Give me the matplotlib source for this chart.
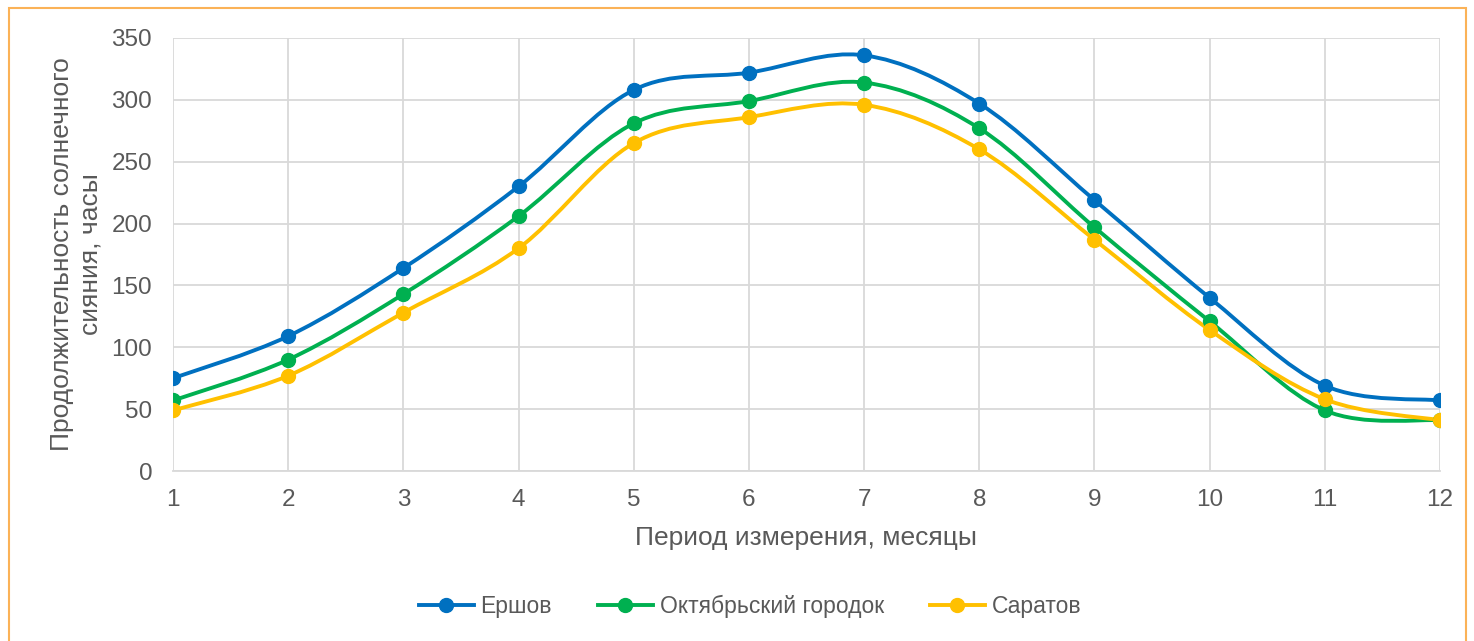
import matplotlib
matplotlib.use("Agg")
import matplotlib.pyplot as plt
from matplotlib.path import Path
from matplotlib.patches import PathPatch, Rectangle
from matplotlib.lines import Line2D

plt.rcParams['font.family'] = ['Liberation Sans', 'DejaVu Sans']

months = [1, 2, 3, 4, 5, 6, 7, 8, 9, 10, 11, 12]
ershov = [75, 109, 164, 230, 308, 322, 336, 297, 219, 140, 69, 57]
oktyabrsky = [57, 90, 143, 206, 281, 299, 314, 277, 197, 121, 49, 41]
saratov = [49, 77, 128, 180, 265, 286, 296, 260, 187, 114, 58, 41]

names = ['Ершов', 'Октябрьский городок', 'Саратов']
colors = ['#0070C0', '#00B050', '#FFC000']
grey = '#595959'


def smooth_path(xs, ys):
    # Excel-like smoothed line: cubic bezier through each point
    n = len(xs)
    verts = [(xs[0], ys[0])]
    codes = [Path.MOVETO]
    for i in range(n - 1):
        a = max(i - 1, 0)
        b = min(i + 2, n - 1)
        c1 = (xs[i] + (xs[i + 1] - xs[a]) / 6, ys[i] + (ys[i + 1] - ys[a]) / 6)
        c2 = (xs[i + 1] - (xs[b] - xs[i]) / 6, ys[i + 1] - (ys[b] - ys[i]) / 6)
        verts += [c1, c2, (xs[i + 1], ys[i + 1])]
        codes += [Path.CURVE4] * 3
    return Path(verts, codes)


fig = plt.figure(figsize=(14.74, 6.41), dpi=100)
ax = fig.add_axes([173 / 1474, 1 - 471 / 641, (1440 - 173) / 1474, (471 - 38) / 641])

handles = []
for ys, name, col in zip([ershov, oktyabrsky, saratov], names, colors):
    ax.add_patch(PathPatch(smooth_path(months, ys), facecolor='none', edgecolor=col,
                           lw=2.8, capstyle='round', joinstyle='round', zorder=3))
    ax.plot(months, ys, 'o', color=col, markersize=10, zorder=4)
    handles.append(Line2D([], [], color=col, lw=2.8, marker='o', markersize=10, label=name))

ax.set_xlim(1, 12)
ax.set_ylim(0, 350)
ax.set_xticks(months)
ax.set_yticks(range(0, 351, 50))
ax.grid(True, color='#D9D9D9', lw=1.3)
ax.set_axisbelow(True)
for s in ['top', 'right', 'left']:
    ax.spines[s].set_visible(False)
ax.spines['bottom'].set_color('#D9D9D9')
ax.spines['bottom'].set_linewidth(1.3)
ax.tick_params(length=0, labelsize=17.5, colors=grey)
ax.tick_params(axis='x', pad=13)
ax.tick_params(axis='y', pad=15)

fig.text(806 / 1474, 1 - 538 / 641, 'Период измерения, месяцы', fontsize=19,
         color=grey, ha='center', va='center')
fig.text(76 / 1474, 1 - 254 / 641, 'Продолжительность солнечного\nсияния, часы',
         fontsize=19, color=grey, ha='center', va='center', rotation=90,
         linespacing=1.25, multialignment='center')

fig.legend(handles=handles, loc='center', bbox_to_anchor=(750 / 1474, 1 - 606 / 641),
           ncol=3, frameon=False, fontsize=16.5, labelcolor=grey,
           handlelength=2.4, columnspacing=2.0, handletextpad=0.3)

fig.patches.append(Rectangle((9 / 1474, -0.05), (1466 - 9) / 1474, 1.05 - 8 / 641,
                             transform=fig.transFigure, fill=False,
                             edgecolor='#FBB257', lw=1.5))

fig.savefig('out.png', dpi=100)
